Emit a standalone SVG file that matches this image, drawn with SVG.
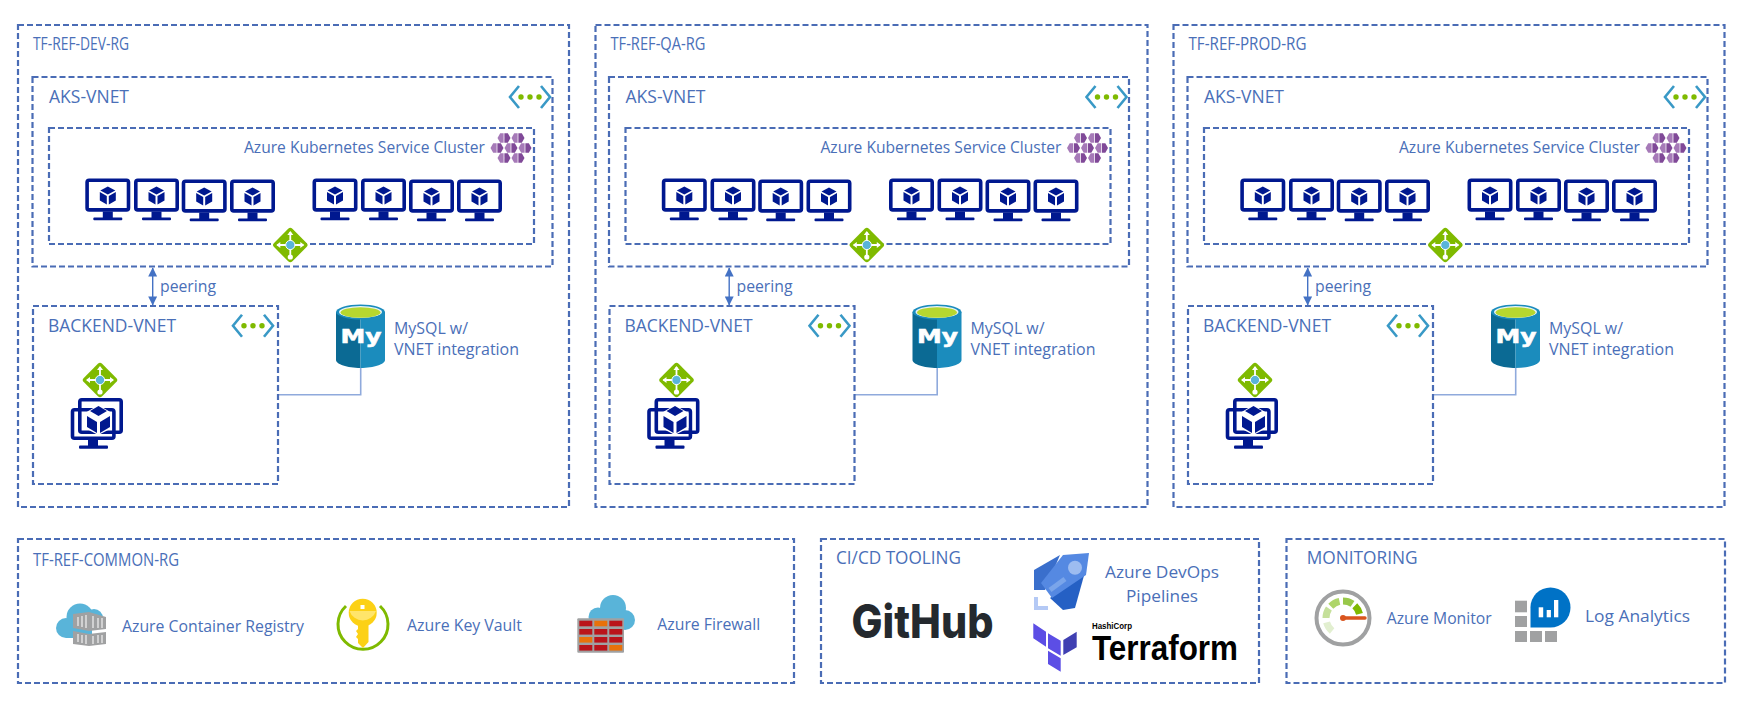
<svg xmlns="http://www.w3.org/2000/svg" xmlns:xlink="http://www.w3.org/1999/xlink" width="1747" height="706" viewBox="0 0 1747 706">
<style>
text{font-family:"Open Sans","Noto Sans","Liberation Sans",sans-serif;fill:#4a6fb8;font-size:16px}
text.h{font-size:17.5px}
.box{fill:none;stroke:#4a6cb5;stroke-width:2.2;stroke-dasharray:6 3}
.nv{fill:none;stroke:#00188f;stroke-width:3.6}
.n{fill:#00188f}
.link{fill:none;stroke:#8faadc;stroke-width:1.6}
.peer{stroke:#4472c4;stroke-width:1.4;marker-start:url(#ah);marker-end:url(#ah)}
</style>
<defs>
<marker id="ah" viewBox="0 0 10 10" refX="9.5" refY="5" markerWidth="11" markerHeight="9" markerUnits="userSpaceOnUse" orient="auto-start-reverse"><path d="M0,0L10,5L0,10Z" fill="#4472c4"/></marker>
<g id="cube"><path class="n" d="M0,-9L7.5,-5L0,-1L-7.5,-5Z"/><path class="n" d="M-8,-3.4L-1,0.4V9L-8,5Z"/><path class="n" d="M8,-3.4L1,0.4V9L8,5Z"/></g>
<g id="vm"><rect class="nv" x="1.8" y="1.8" width="41.4" height="29.6" rx="2"/><rect class="n" x="17.5" y="33" width="10" height="7"/><rect class="n" x="8" y="39" width="29" height="2.8" rx="1"/><use href="#cube" x="22.5" y="17"/></g>
<g id="gw"><rect x="-13" y="-13" width="26" height="26" rx="3" fill="#7fba00" transform="rotate(45)"/><path d="M-13,0H13M0,-13V13" stroke="#fff" stroke-width="1.8"/><path d="M-14,0l4,-3v6ZM14,0l-4,-3v6ZM0,-14l-3,4h6Z" fill="#fff"/><circle cy="12" r="2.6" fill="#fff"/><circle r="4.6" fill="#59b4d9" stroke="#fff" stroke-width="1"/></g>
<g id="vnet"><path d="M-11,-11L-20,0L-11,11M11,-11L20,0L11,11" fill="none" stroke="#3999c6" stroke-width="2.6"/><circle cx="-9" r="2.7" fill="#7fba00"/><circle r="2.7" fill="#7fba00"/><circle cx="9" r="2.7" fill="#7fba00"/></g>
<g id="kc"><path d="M-6.5,0L-3.8,-4.8H-0.4V4.8H-3.8Z" fill="#a67ab8"/><path d="M0.4,-4.8H3.8L6.5,0L3.8,4.8H0.4Z" fill="#804998"/></g>
<g id="aks"><use href="#kc" x="504" y="138"/><use href="#kc" x="518" y="138"/><use href="#kc" x="497" y="148"/><use href="#kc" x="511" y="148"/><use href="#kc" x="525" y="148"/><use href="#kc" x="504" y="158"/><use href="#kc" x="518" y="158"/></g>
<g id="mysql"><path d="M336,312V360C336,364 347,368 360.5,368V312Z" fill="#0b6a94"/><path d="M385,312V360C385,364 374,368 360.5,368V312Z" fill="#1b8cbd"/><ellipse cx="360.5" cy="312" rx="24.5" ry="7.5" fill="#1b8cbd"/><ellipse cx="360.5" cy="312" rx="21.5" ry="6" fill="#e8f3f7"/><ellipse cx="360.5" cy="312.5" rx="20" ry="5.2" fill="#b6d72f"/><text x="340.5" y="342.5" textLength="41" lengthAdjust="spacingAndGlyphs" style="font-family:'DejaVu Sans',sans-serif;font-weight:700;font-size:20px;fill:#fff;stroke:#fff;stroke-width:.6">My</text></g>
<g id="vmstack"><rect class="nv" x="79.8" y="399.8" width="41.4" height="32.4" rx="2"/><rect class="nv" x="72.5" y="409.8" width="41.4" height="28.4" rx="2"/><rect class="n" x="88" y="439" width="10" height="7"/><rect class="n" x="79" y="445.5" width="29" height="3.2" rx="1"/><path d="M98.3,405L112,413V428L98.3,435L85,428V413Z" fill="#fff"/><path class="n" d="M87,416L97,422V433L87,427Z"/><path class="n" d="M110,416L100,422V433L110,427Z"/><path class="n" d="M98.5,406L107,411L98.5,416L90,411Z"/></g>
</defs>
<rect width="1747" height="706" fill="#fff"/>

<g id="connectors">
<line class="peer" x1="152.7" y1="268" x2="152.7" y2="305"/>
<path class="link" d="M278,394.7H360.7V368"/>
<line class="peer" x1="729.2" y1="268" x2="729.2" y2="305"/>
<path class="link" d="M854.5,394.7H937.2V368"/>
<line class="peer" x1="1307.7" y1="268" x2="1307.7" y2="305"/>
<path class="link" d="M1433,394.7H1515.7V368"/>
</g>

<g id="rg-dev">
<rect class="box" x="18" y="25" width="551" height="482"/>
<text class="h" x="33" y="49.5" textLength="96" lengthAdjust="spacingAndGlyphs">TF-REF-DEV-RG</text>
</g>
<g id="aks-vnet-dev">
<rect class="box" x="32.5" y="77" width="520" height="189.5"/>
<text class="h" x="49" y="102.5" textLength="80" lengthAdjust="spacingAndGlyphs">AKS-VNET</text>
<use href="#vnet" x="530" y="97"/>
</g>
<g id="aks-cluster-dev">
<rect class="box" x="49" y="128" width="485" height="116"/>
<text x="244" y="153" textLength="241" lengthAdjust="spacingAndGlyphs">Azure Kubernetes Service Cluster</text>
<use href="#aks"/>
<use href="#vm" x="85.3" y="178.5"/><use href="#vm" x="134" y="178.5"/><use href="#vm" x="181.7" y="179.5"/><use href="#vm" x="230" y="179.5"/>
<use href="#vm" x="312.5" y="178.5"/><use href="#vm" x="361" y="178.5"/><use href="#vm" x="409" y="179.5"/><use href="#vm" x="457" y="179.5"/>
<use href="#gw" x="290.3" y="245"/>
</g>
<g id="backend-vnet-dev">
<rect class="box" x="33" y="306" width="245" height="178"/>
<text class="h" x="48" y="332" textLength="128" lengthAdjust="spacingAndGlyphs">BACKEND-VNET</text>
<use href="#vnet" x="253" y="325.7"/>
<use href="#gw" x="100" y="380"/>
<use href="#vmstack"/>
</g>
<g id="peering-dev"><text x="160" y="292" textLength="56" lengthAdjust="spacingAndGlyphs">peering</text></g>
<g id="mysql-dev"><use href="#mysql"/>
<text x="394" y="334" textLength="74" lengthAdjust="spacingAndGlyphs">MySQL w/</text>
<text x="394" y="355" textLength="125" lengthAdjust="spacingAndGlyphs">VNET integration</text></g>

<g id="rg-qa" transform="translate(577.5,0)">
<rect class="box" x="18" y="25" width="552" height="482"/>
<text class="h" x="33" y="49.5" textLength="95" lengthAdjust="spacingAndGlyphs">TF-REF-QA-RG</text>
</g>
<g id="aks-vnet-qa" transform="translate(576.5,0)">
<rect class="box" x="32.5" y="77" width="520" height="189.5"/>
<text class="h" x="49" y="102.5" textLength="80" lengthAdjust="spacingAndGlyphs">AKS-VNET</text>
<use href="#vnet" x="530" y="97"/>
</g>
<g id="aks-cluster-qa" transform="translate(576.5,0)">
<rect class="box" x="49" y="128" width="485" height="116"/>
<text x="244" y="153" textLength="241" lengthAdjust="spacingAndGlyphs">Azure Kubernetes Service Cluster</text>
<use href="#aks"/>
<use href="#vm" x="85.3" y="178.5"/><use href="#vm" x="134" y="178.5"/><use href="#vm" x="181.7" y="179.5"/><use href="#vm" x="230" y="179.5"/>
<use href="#vm" x="312.5" y="178.5"/><use href="#vm" x="361" y="178.5"/><use href="#vm" x="409" y="179.5"/><use href="#vm" x="457" y="179.5"/>
<use href="#gw" x="290.3" y="245"/>
</g>
<g id="backend-vnet-qa" transform="translate(576.5,0)">
<rect class="box" x="33" y="306" width="245" height="178"/>
<text class="h" x="48" y="332" textLength="128" lengthAdjust="spacingAndGlyphs">BACKEND-VNET</text>
<use href="#vnet" x="253" y="325.7"/>
<use href="#gw" x="100" y="380"/>
<use href="#vmstack"/>
</g>
<g id="peering-qa" transform="translate(576.5,0)"><text x="160" y="292" textLength="56" lengthAdjust="spacingAndGlyphs">peering</text></g>
<g id="mysql-qa" transform="translate(576.5,0)"><use href="#mysql"/>
<text x="394" y="334" textLength="74" lengthAdjust="spacingAndGlyphs">MySQL w/</text>
<text x="394" y="355" textLength="125" lengthAdjust="spacingAndGlyphs">VNET integration</text></g>

<g id="rg-prod" transform="translate(1155.5,0)">
<rect class="box" x="18" y="25" width="551" height="482"/>
<text class="h" x="33" y="49.5" textLength="118" lengthAdjust="spacingAndGlyphs">TF-REF-PROD-RG</text>
</g>
<g id="aks-vnet-prod" transform="translate(1155,0)">
<rect class="box" x="32.5" y="77" width="520" height="189.5"/>
<text class="h" x="49" y="102.5" textLength="80" lengthAdjust="spacingAndGlyphs">AKS-VNET</text>
<use href="#vnet" x="530" y="97"/>
</g>
<g id="aks-cluster-prod" transform="translate(1155,0)">
<rect class="box" x="49" y="128" width="485" height="116"/>
<text x="244" y="153" textLength="241" lengthAdjust="spacingAndGlyphs">Azure Kubernetes Service Cluster</text>
<use href="#aks"/>
<use href="#vm" x="85.3" y="178.5"/><use href="#vm" x="134" y="178.5"/><use href="#vm" x="181.7" y="179.5"/><use href="#vm" x="230" y="179.5"/>
<use href="#vm" x="312.5" y="178.5"/><use href="#vm" x="361" y="178.5"/><use href="#vm" x="409" y="179.5"/><use href="#vm" x="457" y="179.5"/>
<use href="#gw" x="290.3" y="245"/>
</g>
<g id="backend-vnet-prod" transform="translate(1155,0)">
<rect class="box" x="33" y="306" width="245" height="178"/>
<text class="h" x="48" y="332" textLength="128" lengthAdjust="spacingAndGlyphs">BACKEND-VNET</text>
<use href="#vnet" x="253" y="325.7"/>
<use href="#gw" x="100" y="380"/>
<use href="#vmstack"/>
</g>
<g id="peering-prod" transform="translate(1155,0)"><text x="160" y="292" textLength="56" lengthAdjust="spacingAndGlyphs">peering</text></g>
<g id="mysql-prod" transform="translate(1155,0)"><use href="#mysql"/>
<text x="394" y="334" textLength="74" lengthAdjust="spacingAndGlyphs">MySQL w/</text>
<text x="394" y="355" textLength="125" lengthAdjust="spacingAndGlyphs">VNET integration</text></g>

<g id="rg-common">
<rect class="box" x="18" y="539" width="776" height="144"/>
<text class="h" x="33" y="565.5" textLength="146" lengthAdjust="spacingAndGlyphs">TF-REF-COMMON-RG</text>
</g>
<g id="acr">
<g fill="#59b4d9"><circle cx="66" cy="628" r="10"/><circle cx="80" cy="617" r="13.5"/><circle cx="94" cy="618" r="9"/><rect x="66" y="620" width="26" height="18"/></g>
<path d="M73,614L89,612L106,617V629L89,631L73,628Z" fill="#a0a1a2"/><path d="M73,631L89,634L106,632V644L89,646L73,644Z" fill="#a0a1a2"/>
<path d="M78,617V626M82,616V627M86,615V628M93,616V628M98,618V628M102,618V628M78,634V642M82,635V643M86,635V644M93,636V644M98,635V643M102,635V643" stroke="#e6e6e6" stroke-width="1.4"/>
<text x="122" y="632" textLength="182" lengthAdjust="spacingAndGlyphs">Azure Container Registry</text>
</g>
<g id="key-vault">
<path d="M346,606A25 25 0 1 0 380,606" fill="none" stroke="#7fba00" stroke-width="3"/>
<circle cx="362.7" cy="612.7" r="14" fill="#fcd116"/><path d="M349.5,611H376A14 14 0 0 1 349.5,611Z" fill="#ffe56b"/><rect x="360.5" y="605" width="4" height="4" fill="#fff"/>
<path d="M358,624H368.5V642L363,648L358,643V639L356,637L358,634L356,631L358,629Z" fill="#fcd116"/>
<text x="407" y="630.7" textLength="115" lengthAdjust="spacingAndGlyphs">Azure Key Vault</text>
</g>
<g id="firewall">
<g fill="#59b4d9"><circle cx="613" cy="608" r="13"/><circle cx="625" cy="620" r="10"/><circle cx="598" cy="617" r="9.5"/><rect x="598" y="610" width="26" height="19"/></g>
<rect x="577.3" y="618.3" width="46.7" height="34.4" rx="1" fill="#a0a1a2"/>
<g fill="#ba141a"><rect x="579.3" y="620.7" width="13" height="5.6"/><rect x="609.3" y="620.7" width="13" height="5.6"/><rect x="579.3" y="629" width="13" height="5.6"/><rect x="594.3" y="629" width="13" height="5.6"/><rect x="609.3" y="629" width="13" height="5.6"/><rect x="594.3" y="637" width="13" height="5.6"/><rect x="609.3" y="637" width="13" height="5.6"/><rect x="579.3" y="645" width="13" height="5.6"/><rect x="594.3" y="645" width="13" height="5.6"/></g>
<g fill="#e8710a"><rect x="594.3" y="620.7" width="13" height="5.6"/><rect x="579.3" y="637" width="13" height="5.6"/><rect x="609.3" y="645" width="13" height="5.6"/></g>
<text x="657.3" y="630" textLength="103" lengthAdjust="spacingAndGlyphs">Azure Firewall</text>
</g>

<g id="cicd">
<rect class="box" x="821" y="539" width="438" height="144"/>
<text class="h" x="836" y="563.5" textLength="125" lengthAdjust="spacingAndGlyphs">CI/CD TOOLING</text>
</g>
<g id="github"><text x="851.5" y="638" textLength="142" lengthAdjust="spacingAndGlyphs" style="font-family:Inter,'Liberation Sans',sans-serif;font-weight:800;font-size:46px;fill:#24292e">GitHub</text></g>
<g id="devops">
<path d="M1034,570L1060,555L1045,590H1034Z" fill="#3a6fcc"/>
<path d="M1085,572L1075,608L1063,610L1050,598Z" fill="#2560c4"/>
<path d="M1089,553L1063,555L1041,583L1052,598L1086,575Z" fill="#5589e2"/>
<circle cx="1075" cy="567.7" r="7" fill="#9dbcf0"/>
<path d="M1050,590L1065,579" stroke="#7aa5ea" stroke-width="5"/>
<path d="M1036,597V608H1048" fill="none" stroke="#b4c9f5" stroke-width="4"/>
<text x="1105" y="578" textLength="114" lengthAdjust="spacingAndGlyphs">Azure DevOps</text>
<text x="1126" y="601.7" textLength="72" lengthAdjust="spacingAndGlyphs">Pipelines</text>
</g>
<g id="terraform">
<path d="M1033.3,623.3L1046,631.7V646.7L1033.3,638.3ZM1048,633.3L1060.7,640.7V655.7L1048,648.3ZM1048,650.7L1060.7,658.3V671.7L1048,664Z" fill="#5c4ee5"/>
<path d="M1076.7,631.7L1063.3,640V655L1076.7,647.3Z" fill="#4040b2"/>
<text x="1092" y="629" textLength="40" lengthAdjust="spacingAndGlyphs" style="font-family:'Liberation Sans',sans-serif;font-weight:700;font-size:9px;fill:#000">HashiCorp</text>
<text x="1092" y="660" textLength="146" lengthAdjust="spacingAndGlyphs" style="font-family:'Liberation Sans',sans-serif;font-weight:700;font-size:35px;fill:#000">Terraform</text>
</g>

<g id="monitoring">
<rect class="box" x="1286.5" y="539" width="438.5" height="144"/>
<text class="h" x="1306.7" y="564" textLength="111" lengthAdjust="spacingAndGlyphs">MONITORING</text>
</g>
<g id="azure-monitor">
<circle cx="1343" cy="618" r="26.5" fill="#fff" stroke="#a0a1a2" stroke-width="4"/>
<g fill="none" stroke-width="7"><path d="M1332.1,631A17 17 0 0 1 1326.6,622.4" stroke="#e2efd0"/><path d="M1326,618A17 17 0 0 1 1328.9,608.5" stroke="#c5e09a"/><path d="M1330.8,606.2A17 17 0 0 1 1339.5,601.4" stroke="#aed56a"/><path d="M1343,601A17 17 0 0 1 1352.5,603.9" stroke="#98c84a"/><path d="M1354.8,605.8A17 17 0 0 1 1359.5,613.9" stroke="#7fba00"/></g>
<path d="M1343,618H1365" stroke="#d9541e" stroke-width="3.4" stroke-linecap="round"/><circle cx="1343" cy="618" r="3" fill="#d9541e"/>
<text x="1386.7" y="624" textLength="105" lengthAdjust="spacingAndGlyphs">Azure Monitor</text>
</g>
<g id="log-analytics">
<g fill="#a0a1a2"><rect x="1515" y="600.7" width="12" height="11.6"/><rect x="1515" y="616" width="12" height="11"/><rect x="1515" y="631" width="12" height="11"/><rect x="1530" y="631" width="12" height="11"/><rect x="1545" y="631" width="12" height="11"/></g>
<path d="M1530.5,607.5A20 20 0 1 1 1550.5,627.5H1530.5Z" fill="#0072c6"/>
<g fill="#fff"><rect x="1538.7" y="607.3" width="4.5" height="10"/><rect x="1546.7" y="610" width="4.2" height="7.3"/><rect x="1554" y="600" width="4.3" height="17.3"/></g>
<text x="1585" y="621.5" textLength="105" lengthAdjust="spacingAndGlyphs">Log Analytics</text>
</g>
</svg>
